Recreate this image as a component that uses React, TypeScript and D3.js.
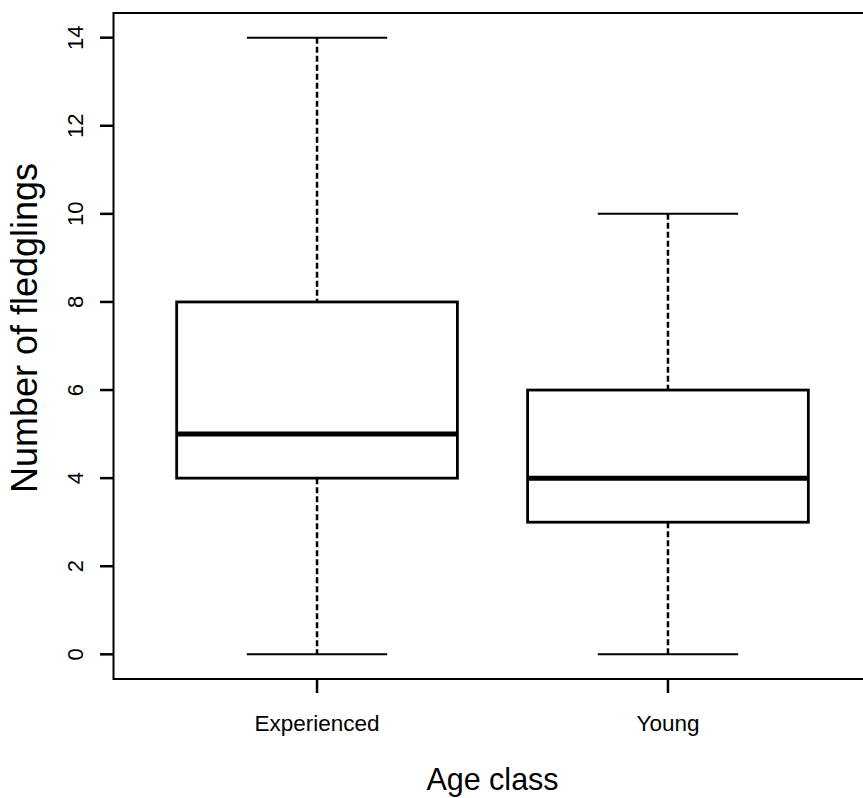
import React from "react";
import * as d3 from "d3";

const categories = ["Experienced", "Young"];
const mins = [0, 0];
const q1s = [4, 3];
const medians = [5, 4];
const q3s = [8, 6];
const maxs = [14, 10];
const yTicks = [0, 2, 4, 6, 8, 10, 12, 14];

const W = 863;
const H = 798;

export default function App() {
  const x = d3.scaleLinear().domain([0.42, 2.58]).range([113.5, 871.5]);
  const y = d3.scaleLinear().domain([-0.56, 14.56]).range([679, 13]);
  const font = "Liberation Sans, Arial, sans-serif";
  const boxHalf = 0.4;
  const capHalf = 0.2;

  return (
    <svg
      width={W}
      height={H}
      style={{ position: "absolute", left: 0, top: 0, background: "#fff" }}
    >
      <rect x={0} y={0} width={W} height={H} fill="#fff" />
      {categories.map((c, i) => {
        const cx = x(i + 1);
        return (
          <g key={c}>
            <line x1={cx} x2={cx} y1={y(maxs[i])} y2={y(q3s[i])} stroke="#000" strokeWidth={2.5} strokeDasharray="6,3" />
            <line x1={cx} x2={cx} y1={y(q1s[i])} y2={y(mins[i])} stroke="#000" strokeWidth={2.5} strokeDasharray="6,3" />
            <line x1={x(i + 1 - capHalf)} x2={x(i + 1 + capHalf)} y1={y(maxs[i])} y2={y(maxs[i])} stroke="#000" strokeWidth={2} />
            <line x1={x(i + 1 - capHalf)} x2={x(i + 1 + capHalf)} y1={y(mins[i])} y2={y(mins[i])} stroke="#000" strokeWidth={2} />
            <rect
              x={x(i + 1 - boxHalf)}
              y={y(q3s[i])}
              width={x(i + 1 + boxHalf) - x(i + 1 - boxHalf)}
              height={y(q1s[i]) - y(q3s[i])}
              fill="#fff"
              stroke="#000"
              strokeWidth={2.8}
            />
            <line x1={x(i + 1 - boxHalf)} x2={x(i + 1 + boxHalf)} y1={y(medians[i])} y2={y(medians[i])} stroke="#000" strokeWidth={5} />
            <line x1={cx} x2={cx} y1={679} y2={693} stroke="#000" strokeWidth={2.5} />
            <text x={cx} y={731} textAnchor="middle" fontFamily={font} fontSize={22.5} fill="#000">{c}</text>
          </g>
        );
      })}
      {yTicks.map((t) => (
        <g key={t}>
          <line x1={100} x2={113.5} y1={y(t)} y2={y(t)} stroke="#000" strokeWidth={2.5} />
          <text
            transform={`translate(83,${y(t)}) rotate(-90)`}
            textAnchor="middle"
            fontFamily={font}
            fontSize={22}
            fill="#000"
          >
            {t}
          </text>
        </g>
      ))}
      <rect x={113.5} y={13} width={758} height={666} fill="none" stroke="#000" strokeWidth={2} />
      <text x={x(1.5)} y={790} textAnchor="middle" fontFamily={font} fontSize={30.5} fill="#000">Age class</text>
      <text
        transform={`translate(37,328) rotate(-90)`}
        textAnchor="middle"
        fontFamily={font}
        fontSize={36}
        fill="#000"
      >
        Number of fledglings
      </text>
    </svg>
  );
}
